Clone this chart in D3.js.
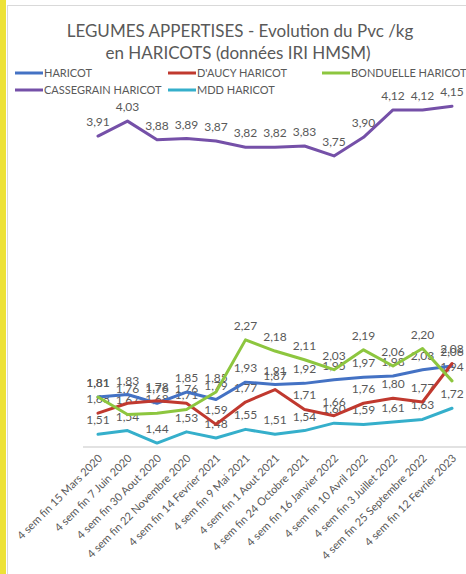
<!DOCTYPE html>
<html>
<head>
<meta charset="utf-8">
<script src="https://cdn.jsdelivr.net/npm/d3@7"></script>
<style>
  body { margin: 0; background: #fff; }
  text { font-family: Lato, "Open Sans", sans-serif; fill: #595959; }
</style>
</head>
<body>
<div id="myDiv"></div>
<script>
//Data
var categories = ["4 sem fin 15 Mars 2020", "4 sem fin 7 Juin 2020", "4 sem fin 30 Aout 2020",
  "4 sem fin 22 Novembre 2020", "4 sem fin 14 Fevrier 2021", "4 sem fin 9 Mai 2021",
  "4 sem fin 1 Aout 2021", "4 sem fin 24 Octobre 2021", "4 sem fin 16 Janvier 2022",
  "4 sem fin 10 Avril 2022", "4 sem fin 3 Juillet 2022", "4 sem fin 25 Septembre 2022",
  "4 sem fin 12 Fevrier 2023"];
var seriesNames = ["HARICOT", "D'AUCY HARICOT", "BONDUELLE HARICOT", "CASSEGRAIN HARICOT", "MDD HARICOT"];
var haricot    = [1.81, 1.83, 1.76, 1.85, 1.79, 1.93, 1.91, 1.92, 1.95, 1.97, 1.98, 2.03, 2.06];
var daucy      = [1.68, 1.76, 1.78, 1.76, 1.59, 1.77, 1.87, 1.71, 1.66, 1.76, 1.80, 1.77, 2.08];
var bonduelle  = [1.81, 1.67, 1.68, 1.71, 1.85, 2.27, 2.18, 2.11, 2.03, 2.19, 2.06, 2.20, 1.94];
var cassegrain = [3.91, 4.03, 3.88, 3.89, 3.87, 3.82, 3.82, 3.83, 3.75, 3.90, 4.12, 4.12, 4.15];
var mdd        = [1.51, 1.54, 1.44, 1.53, 1.48, 1.55, 1.51, 1.54, 1.60, 1.59, 1.61, 1.63, 1.72];
var colors = ["#4472C4", "#C0392F", "#8DC63F", "#7550A8", "#35AFCB"];

var allSeries = [haricot, daucy, bonduelle, cassegrain, mdd];

//Width and height
var w = 466;
var h = 574;

var svg = d3.select("#myDiv")
    .append("svg")
    .attr("width", w)
    .attr("height", h);

//frame
svg.append("rect")
  .attr("x", 7.5).attr("y", 5.5)
  .attr("width", w).attr("height", h)
  .attr("fill", "#fff")
  .attr("stroke", "#d9d9d9");
svg.append("rect")
  .attr("x", 0).attr("y", 0)
  .attr("width", 6).attr("height", h)
  .attr("fill", "#EDE236");

//scales
var x = d3.scalePoint()
  .domain(categories)
  .range([98, 452]);
var y = d3.scaleLinear()
  .domain([1.4, 4.2])
  .range([448, 100]);

//title
svg.append("text")
  .attr("x", 240).attr("y", 37)
  .attr("text-anchor", "middle")
  .attr("font-size", "17px")
  .text("LEGUMES APPERTISES - Evolution du Pvc /kg");
svg.append("text")
  .attr("x", 238).attr("y", 59)
  .attr("text-anchor", "middle")
  .attr("font-size", "17px")
  .text("en HARICOTS (données IRI HMSM)");

//legend
var legendPos = [[15, 73], [168, 73], [322, 73], [15, 90], [168, 90]];
var legend = svg.selectAll("g.legend")
  .data(seriesNames)
  .enter()
  .append("g")
  .attr("class", "legend")
  .attr("transform", function(d, i) {
    return "translate(" + legendPos[i][0] + "," + legendPos[i][1] + ")";
  });
legend.append("line")
  .attr("x1", 0).attr("x2", 28)
  .attr("y1", 0).attr("y2", 0)
  .attr("stroke", function(d, i) { return colors[i]; })
  .attr("stroke-width", 3);
legend.append("text")
  .attr("x", 29).attr("y", 4)
  .attr("font-size", "11px")
  .text(function(d) { return d; });

//axis line
svg.append("line")
  .attr("x1", 83).attr("x2", w)
  .attr("y1", 447).attr("y2", 447)
  .attr("stroke", "#d9d9d9")
  .attr("stroke-width", 1.5);

//x labels
svg.selectAll("text.xlab")
  .data(categories)
  .enter()
  .append("text")
  .attr("class", "xlab")
  .attr("text-anchor", "end")
  .attr("font-size", "11px")
  .attr("transform", function(d) {
    return "translate(" + (x(d) + 5) + ",459) rotate(-45)";
  })
  .text(function(d) { return d; });

//data labels (under the lines, like in the original)
for (var s = 0; s < allSeries.length; s++) {
  svg.selectAll("text.lab" + s)
    .data(allSeries[s])
    .enter()
    .append("text")
    .attr("class", "lab" + s)
    .attr("text-anchor", "middle")
    .attr("font-size", "12px")
    .attr("x", function(d, i) { return x(categories[i]); })
    .attr("y", function(d) { return y(d) - 10; })
    .text(function(d) { return d.toFixed(2).replace(".", ","); });
}

//lines
var line = d3.line()
  .x(function(d, i) { return x(categories[i]); })
  .y(function(d) { return y(d); });

svg.selectAll("path.serie")
  .data(allSeries)
  .enter()
  .append("path")
  .attr("class", "serie")
  .attr("d", line)
  .attr("fill", "none")
  .attr("stroke", function(d, i) { return colors[i]; })
  .attr("stroke-width", 3)
  .attr("stroke-linejoin", "round")
  .attr("stroke-linecap", "round");
</script>
</body>
</html>
